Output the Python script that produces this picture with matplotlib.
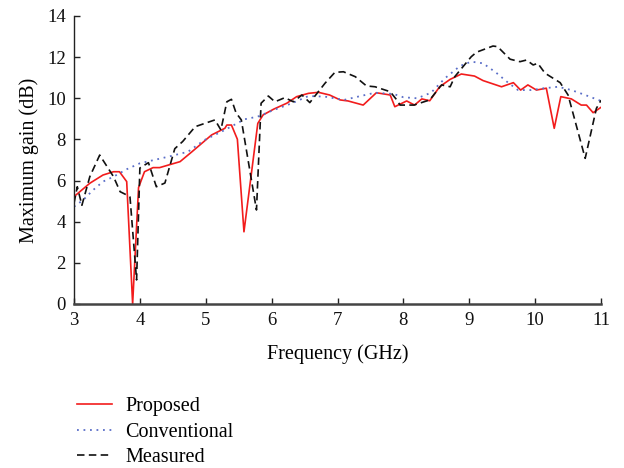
import matplotlib
matplotlib.use("Agg")
import matplotlib.pyplot as plt

plt.rcParams['font.family'] = ['Liberation Serif', 'DejaVu Serif']

# Proposed
prop_f = [3.0, 3.24, 3.44, 3.60, 3.69, 3.80, 3.89, 3.98, 4.07, 4.20, 4.30, 4.61, 4.79,
          5.09, 5.29, 5.32, 5.39, 5.48, 5.58, 5.79, 5.87, 6.03, 6.23, 6.38, 6.56, 6.71,
          6.88, 7.04, 7.16, 7.39, 7.59, 7.80, 7.87, 8.05, 8.17, 8.28, 8.40, 8.55, 8.71,
          8.88, 9.08, 9.21, 9.49, 9.67, 9.78, 9.89, 10.02, 10.17, 10.29, 10.39, 10.55,
          10.70, 10.78, 10.88, 11.0]
prop_g = [5.22, 5.87, 6.27, 6.43, 6.43, 5.95, 0.0, 5.66, 6.43, 6.63, 6.63, 6.92, 7.40,
          8.22, 8.54, 8.70, 8.70, 8.01, 3.51, 8.78, 9.19, 9.47, 9.76, 10.08, 10.24, 10.29,
          10.16, 9.92, 9.87, 9.67, 10.27, 10.16, 9.59, 9.87, 9.67, 9.97, 9.88, 10.56, 10.92,
          11.18, 11.08, 10.86, 10.56, 10.76, 10.40, 10.65, 10.40, 10.49, 8.54, 10.08, 9.97,
          9.67, 9.67, 9.30, 9.56]

# Conventional
conv_f = [3.0, 3.14, 3.29, 3.44, 3.60, 3.80, 4.00, 4.43, 4.73, 4.98, 5.29, 5.59, 5.79,
          6.03, 6.31, 6.56, 6.81, 7.10, 7.27, 7.57, 7.85, 8.00, 8.21, 8.42, 8.63, 8.86,
          9.03, 9.21, 9.41, 9.57, 9.74, 9.94, 10.14, 10.35, 10.55, 10.76, 11.0]
conv_g = [4.73, 5.06, 5.54, 5.95, 6.19, 6.55, 6.84, 7.16, 7.40, 7.97, 8.46, 8.98, 9.11,
          9.43, 9.76, 10.11, 10.08, 9.92, 10.05, 10.27, 10.21, 10.05, 10.0, 10.27, 10.97, 11.57,
          11.78, 11.70, 11.24, 10.81, 10.40, 10.40, 10.49, 10.56, 10.40, 10.16, 9.87]

# Measured
meas_f = [3.0, 3.05, 3.12, 3.24, 3.39, 3.47, 3.60, 3.70, 3.80, 3.85, 3.95, 4.00, 4.13,
          4.25, 4.38, 4.53, 4.65, 4.84, 5.14, 5.23, 5.32, 5.39, 5.46, 5.54, 5.77, 5.84, 5.95,
          6.05, 6.20, 6.33, 6.46, 6.58, 6.65, 6.81, 6.96, 7.09, 7.27, 7.44, 7.57, 7.80,
          7.90, 7.95, 8.16, 8.40, 8.58, 8.71, 8.78, 9.03, 9.11, 9.36, 9.43, 9.62, 9.77,
          9.87, 9.97, 10.04, 10.15, 10.38, 10.50, 10.76, 10.93, 11.0]
meas_g = [4.9, 5.7, 4.8, 6.19, 7.24, 6.84, 6.19, 5.46, 5.30, 5.2, 1.17, 6.61, 6.87,
          5.70, 5.88, 7.55, 7.9, 8.62, 8.95, 8.46, 9.83, 9.95, 9.29, 8.95, 4.57, 9.76, 10.11,
          9.83, 10.03, 9.83, 10.16, 9.79, 10.08, 10.73, 11.26, 11.29, 11.05, 10.60, 10.56, 10.32,
          9.92, 9.67, 9.67, 9.92, 10.65, 10.56, 11.05, 12.02, 12.24, 12.54, 12.51, 11.90, 11.78,
          11.86, 11.62, 11.70, 11.22, 10.76, 10.16, 7.08, 9.51, 9.9]

labels = ["Proposed", "Conventional", "Measured"]
x_ticks = [3, 4, 5, 6, 7, 8, 9, 10, 11]
y_ticks = [0, 2, 4, 6, 8, 10, 12, 14]

fig = plt.figure(figsize=(6.24, 4.68), dpi=100)
ax = fig.add_axes([74/624, 1 - 304/468, 527/624, 288/468])

l1, = ax.plot(prop_f, prop_g, color='#f21c1c', lw=1.2, label=labels[0])
l2, = ax.plot(conv_f, conv_g, color='#5a6ec8', lw=1.3, linestyle=(0, (1, 2.6)), label=labels[1])
l3, = ax.plot(meas_f, meas_g, color='#111111', lw=1.2, linestyle=(0, (4.5, 2.6)), label=labels[2])

ax.set_xlim(3, 11)
ax.set_ylim(0, 14)
ax.set_xticks(x_ticks)
ax.set_yticks(y_ticks)
for s in ['top', 'right']:
    ax.spines[s].set_visible(False)
ax.spines['left'].set_color('#222222')
ax.spines['left'].set_linewidth(1.0)
ax.spines['bottom'].set_color('#444444')
ax.spines['bottom'].set_linewidth(1.8)
ax.tick_params(direction='in', length=4, width=1.0, labelsize=13.5, colors='#222222',
               labelcolor='#111111', pad=6)
ax.set_xlabel("Frequency (GHz)", fontsize=14.5, labelpad=11)
ax.set_ylabel("Maximum gain (dB)", fontsize=14.5)
ax.yaxis.set_label_coords(-0.066, 0.5)

fig.legend(handles=[l1, l2, l3], labels=labels, loc='upper left',
           bbox_to_anchor=(59/624, 1 - 379/468), frameon=False, fontsize=14.5,
           handlelength=1.74, handletextpad=0.65, labelspacing=0.32, borderpad=0.4)

fig.savefig("out.png", dpi=100)
